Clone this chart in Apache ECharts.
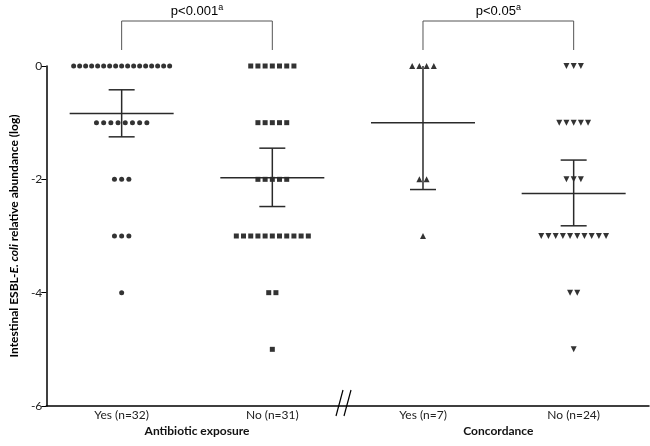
<!DOCTYPE html>
<html><head><meta charset="utf-8">
<script src="https://cdn.jsdelivr.net/npm/echarts@6/dist/echarts.min.js"></script>
<style>html,body{margin:0;padding:0;background:#fff;overflow:hidden}#c{width:650px;height:446px}</style>
</head><body><div id="c"></div>
<script>
// ---- data ----
const categories = ['Yes (n=32)', 'No (n=31)', 'Yes (n=7)', 'No (n=24)'];
const groupLabels = ['Antibiotic exposure', 'Concordance'];
const abxYes = [0,0,0,0,0,0,0,0,0,0,0,0,0,0,0,0,0, -1,-1,-1,-1,-1,-1,-1,-1, -2,-2,-2, -3,-3,-3, -4];
const abxNo = [0,0,0,0,0,0,0, -1,-1,-1,-1,-1, -2,-2,-2,-2,-2, -3,-3,-3,-3,-3,-3,-3,-3,-3,-3,-3, -4,-4, -5];
const concYes = [0,0,0,0, -2,-2, -3];
const concNo = [0,0,0, -1,-1,-1,-1,-1, -2,-2,-2, -3,-3,-3,-3,-3,-3,-3,-3,-3,-3, -4,-4, -5];
const means = [-0.84, -1.97, -1.0, -2.25];
const errUpper = [-0.42, -1.45, 0.18, -1.66];
const errLower = [-1.25, -2.48, -2.18, -2.82];
const pLabels = ['p<0.001', 'p<0.05'];
const comparisons = [[0, 1], [2, 3]];
const yMin = -6, yMax = 0, yStep = 2;

// ---- build ----
const groups = [abxYes, abxNo, concYes, concNo];
const symbols = [
  {symbol: 'circle', size: 5, rotate: 0},
  {symbol: 'rect', size: 5, rotate: 0},
  {symbol: 'triangle', size: 6, rotate: 0},
  {symbol: 'triangle', size: 6, rotate: 180}
];
function spread(vals, ci) {
  const counts = {};
  vals.forEach(v => counts[v] = (counts[v] || 0) + 1);
  const idx = {};
  return vals.map(v => {
    const n = counts[v];
    const i = idx[v] = (idx[v] === undefined ? 0 : idx[v] + 1);
    const step = n > 1 ? Math.min(7.2, 96 / (n - 1)) : 0;
    return {value: [ci, v], symbolOffset: [(i - (n - 1) / 2) * step, 0]};
  });
}
const scatterSeries = groups.map((g, ci) => ({
  type: 'scatter',
  data: spread(g, ci),
  symbol: symbols[ci].symbol,
  symbolSize: symbols[ci].size,
  symbolRotate: symbols[ci].rotate,
  itemStyle: {color: '#000'},
  z: 3,
  silent: true
}));

const chart = echarts.init(document.getElementById('c'), null, {renderer: 'canvas'});
const lineStyle = {stroke: '#2a2a2a', lineWidth: 1.5};
chart.setOption({
  animation: false,
  grid: {left: 34, right: 1, top: 66, bottom: 40},
  xAxis: [{
    type: 'category',
    data: categories,
    boundaryGap: true,
    axisLine: {onZero: false, lineStyle: {color: '#000', width: 1.5}},
    axisTick: {alignWithLabel: true, length: 4, lineStyle: {color: '#000'}},
    axisLabel: {color: '#222', fontFamily: 'Lato', fontSize: 12, margin: 3},
    splitLine: {show: false}
  }, {
    type: 'category',
    data: groupLabels,
    position: 'bottom',
    boundaryGap: true,
    axisLine: {show: false, onZero: false},
    axisTick: {show: false},
    axisLabel: {color: '#111', fontFamily: 'Lato', fontWeight: 'bold', fontSize: 12, margin: 19},
    splitLine: {show: false}
  }],
  yAxis: {
    type: 'value',
    min: yMin, max: yMax, interval: yStep,
    axisLine: {show: true, lineStyle: {color: '#000', width: 1.5}},
    axisTick: {show: true, length: 5, lineStyle: {color: '#000'}},
    axisLabel: {color: '#222', fontFamily: 'Lato', fontSize: 12, margin: 4},
    splitLine: {show: false},
    name: '{b|Intestinal ESBL-}{i|E. coli}{b| relative abundance (log)}',
    nameLocation: 'middle',
    nameGap: 21,
    nameTextStyle: {
      rich: {
        b: {fontFamily: 'Lato', fontWeight: 'bold', fontSize: 12, color: '#000'},
        i: {fontFamily: 'Lato', fontWeight: 'bold', fontStyle: 'italic', fontSize: 12, color: '#000'}
      }
    }
  },
  series: scatterSeries.concat([{
    type: 'custom',
    clip: true,
    z: 4,
    silent: true,
    data: categories.map((c, i) => [i, means[i], errUpper[i], errLower[i]]),
    encode: {x: 0, y: [1, 2, 3]},
    renderItem: function (params, api) {
      const c = api.value(0);
      const m = api.coord([c, api.value(1)]);
      const hi = api.coord([c, api.value(2)]);
      const lo = api.coord([c, api.value(3)]);
      const x = m[0];
      return {type: 'group', children: [
        {type: 'line', shape: {x1: x - 52, y1: m[1], x2: x + 52, y2: m[1]}, style: lineStyle},
        {type: 'line', shape: {x1: x, y1: hi[1], x2: x, y2: lo[1]}, style: lineStyle},
        {type: 'line', shape: {x1: x - 13, y1: hi[1], x2: x + 13, y2: hi[1]}, style: lineStyle},
        {type: 'line', shape: {x1: x - 13, y1: lo[1], x2: x + 13, y2: lo[1]}, style: lineStyle}
      ]};
    }
  }, {
    type: 'custom',
    clip: false,
    silent: true,
    data: comparisons.map((p, i) => [p[0], p[1], 0, i]),
    encode: {x: [0, 1], y: 2},
    renderItem: function (params, api) {
      const a = api.coord([api.value(0), 0]);
      const b = api.coord([api.value(1), 0]);
      const top = a[1] - 45, leg = a[1] - 16;
      const i = api.value(3);
      return {type: 'group', children: [
        {type: 'polyline', shape: {points: [[a[0], leg], [a[0], top], [b[0], top], [b[0], leg]]},
         style: {stroke: '#555', lineWidth: 1, fill: null}},
        {type: 'text', style: {
          text: '{p|' + pLabels[i] + '}{s|a}',
          x: (a[0] + b[0]) / 2, y: top - 10,
          align: 'center', verticalAlign: 'middle',
          rich: {
            p: {fontFamily: 'Liberation Sans', fontSize: 13, color: '#222', lineHeight: 16},
            s: {fontFamily: 'Liberation Sans', fontSize: 9, color: '#222', verticalAlign: 'top', lineHeight: 16, padding: [0, 0, 7, 0]}
          }
        }}
      ]};
    }
  }]),
  graphic: [
    {type: 'line', shape: {x1: 336, y1: 416, x2: 343, y2: 390}, style: {stroke: '#000', lineWidth: 1.2}},
    {type: 'line', shape: {x1: 344, y1: 416, x2: 351, y2: 390}, style: {stroke: '#000', lineWidth: 1.2}},
    {type: 'rect', z: 100, shape: {x: 646.5, y: 50, width: 4, height: 354.5}, style: {fill: '#fff'}}
  ]
});
</script></body></html>
